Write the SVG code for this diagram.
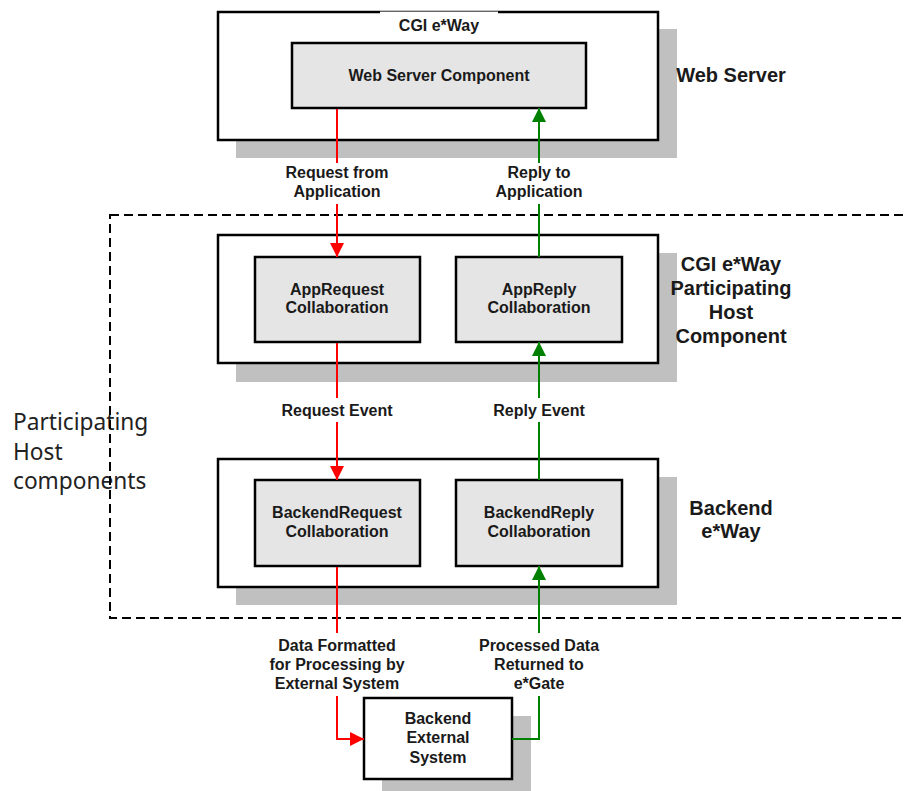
<svg xmlns="http://www.w3.org/2000/svg" width="904" height="791" viewBox="0 0 904 791">
<defs>
<style>
.t{font-family:"Liberation Sans",Arial,sans-serif;font-weight:bold;font-size:16px;fill:#1a1a1a;text-anchor:middle}
.big{font-size:20px}
.side{font-family:"Noto Sans","Open Sans",sans-serif;font-size:22.7px;fill:#222}
.outer{fill:#fff;stroke:#000;stroke-width:2.5}
.inner{fill:#e5e5e5;stroke:#000;stroke-width:2.5}
.shadow{fill:#c0c0c0}
.red{fill:none;stroke:#ff0000;stroke-width:2}
.green{fill:none;stroke:#008000;stroke-width:2}
</style>
<marker id="ar" markerUnits="userSpaceOnUse" markerWidth="14" markerHeight="14" viewBox="0 0 14 14" refX="14" refY="7" orient="auto">
<path d="M0,0 L14,7 L0,14 Z" fill="#ff0000"/>
</marker>
<marker id="ag" markerUnits="userSpaceOnUse" markerWidth="14" markerHeight="14" viewBox="0 0 14 14" refX="14" refY="7" orient="auto">
<path d="M0,0 L14,7 L0,14 Z" fill="#008000"/>
</marker>
</defs>
<rect width="904" height="791" fill="#fff"/>

<g id="boundary">
<text class="side" x="13" y="430">Participating</text>
<text class="side" x="13" y="460">Host</text>
<text class="side" x="13" y="489">components</text>
<rect x="110" y="215" width="810" height="403" fill="none" stroke="#000" stroke-width="2" stroke-dasharray="9 5"/>
</g>

<g id="web-server">
<rect class="shadow" x="236" y="29" width="441" height="129"/>
<rect class="outer" x="218" y="12" width="440" height="128"/>
<rect x="380" y="11.6" width="118" height="3" fill="#fff"/>
<text class="t" x="439" y="31">CGI e*Way</text>
<text class="t big" x="731" y="82">Web Server</text>
</g>
<g id="web-server-component">
<rect class="inner" x="292" y="43" width="294" height="65"/>
<text class="t" x="439" y="81">Web Server Component</text>
</g>

<g id="cgi-participating-host">
<rect class="shadow" x="236" y="253" width="441" height="129"/>
<rect class="outer" x="218" y="235" width="440" height="128"/>
<text class="t big" x="731" y="271">CGI e*Way</text>
<text class="t big" x="731" y="295">Participating</text>
<text class="t big" x="731" y="319">Host</text>
<text class="t big" x="731" y="343">Component</text>
</g>
<g id="app-request">
<rect class="inner" x="255" y="257" width="165" height="85"/>
<text class="t" x="337" y="295">AppRequest</text>
<text class="t" x="337" y="313">Collaboration</text>
</g>
<g id="app-reply">
<rect class="inner" x="456" y="257" width="166" height="85"/>
<text class="t" x="539" y="295">AppReply</text>
<text class="t" x="539" y="313">Collaboration</text>
</g>

<g id="backend-eway">
<rect class="shadow" x="236" y="477" width="441" height="128"/>
<rect class="outer" x="218" y="459" width="440" height="128"/>
<text class="t big" x="731" y="515">Backend</text>
<text class="t big" x="731" y="538">e*Way</text>
</g>
<g id="backend-request">
<rect class="inner" x="255" y="480" width="165" height="86"/>
<text class="t" x="337" y="518">BackendRequest</text>
<text class="t" x="337" y="537">Collaboration</text>
</g>
<g id="backend-reply">
<rect class="inner" x="456" y="480" width="166" height="86"/>
<text class="t" x="539" y="518">BackendReply</text>
<text class="t" x="539" y="537">Collaboration</text>
</g>

<g id="backend-external">
<rect class="shadow" x="382" y="716" width="149" height="90"/>
<rect class="outer" x="364" y="698" width="148" height="81"/>
<text class="t" x="438" y="724">Backend</text>
<text class="t" x="438" y="743">External</text>
<text class="t" x="438" y="763">System</text>
</g>

<g id="connectors">
<line class="red" x1="337" y1="109" x2="337" y2="163"/>
<line class="red" x1="337" y1="204" x2="337" y2="257" marker-end="url(#ar)"/>
<line class="red" x1="337" y1="343" x2="337" y2="398"/>
<line class="red" x1="337" y1="422" x2="337" y2="480" marker-end="url(#ar)"/>
<line class="red" x1="337" y1="567" x2="337" y2="633"/>
<polyline class="red" points="337,696 337,739 364,739" marker-end="url(#ar)"/>

<polyline class="green" points="512,739 539,739 539,696"/>
<line class="green" x1="539" y1="633" x2="539" y2="566" marker-end="url(#ag)"/>
<line class="green" x1="539" y1="480" x2="539" y2="422"/>
<line class="green" x1="539" y1="398" x2="539" y2="342" marker-end="url(#ag)"/>
<line class="green" x1="539" y1="257" x2="539" y2="204"/>
<line class="green" x1="539" y1="163" x2="539" y2="108" marker-end="url(#ag)"/>

<text class="t" x="337" y="178">Request from</text>
<text class="t" x="337" y="197">Application</text>
<text class="t" x="539" y="178">Reply to</text>
<text class="t" x="539" y="197">Application</text>
<text class="t" x="337" y="416">Request Event</text>
<text class="t" x="539" y="416">Reply Event</text>
<text class="t" x="337" y="651">Data Formatted</text>
<text class="t" x="337" y="670">for Processing by</text>
<text class="t" x="337" y="689">External System</text>
<text class="t" x="539" y="651">Processed Data</text>
<text class="t" x="539" y="670">Returned to</text>
<text class="t" x="539" y="689">e*Gate</text>
</g>
</svg>
